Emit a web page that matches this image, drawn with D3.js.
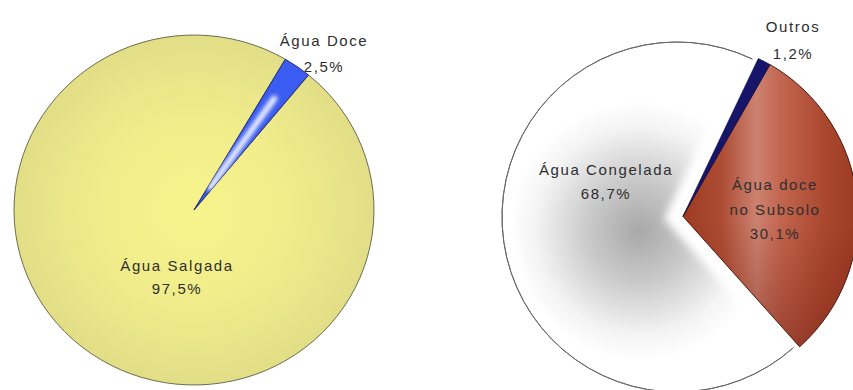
<!DOCTYPE html>
<html>
<head>
<meta charset="utf-8">
<script src="https://cdn.jsdelivr.net/npm/d3@7"></script>
<style>
  body { margin: 0; background: #fff; }
  svg { display: block; }
  text { font-family: "Liberation Sans", Arial, sans-serif; font-size: 15px; fill: #2e2e2e; letter-spacing: 1.6px; }
</style>
</head>
<body>
<svg id="chart" width="853" height="390"></svg>
<script>
// Distribution of the planet's water (left) and of its fresh water (right)
const totalCategories = ["Água Doce", "Água Salgada"];
const totalValues = [2.5, 97.5];
const totalLabelLines = [["Água Doce"], ["Água Salgada"]];

const freshCategories = ["Outros", "Água doce no Subsolo", "Água Congelada"];
const freshValues = [1.2, 30.1, 68.7];
const freshLabelLines = [["Outros"], ["Água doce", "no Subsolo"], ["Água Congelada"]];

const svg = d3.select("#chart");
const defs = svg.append("defs");
const deg = Math.PI / 180;
const pct = d3.formatLocale({ decimal: ",", thousands: ".", grouping: [3], currency: ["", ""] }).format(".1f");
const dir = a => [Math.sin(a), -Math.cos(a)];

// shared blur filters
defs.append("filter").attr("id", "blur2").attr("x", "-50%").attr("y", "-50%").attr("width", "200%").attr("height", "200%")
  .append("feGaussianBlur").attr("stdDeviation", 2.2);
defs.append("filter").attr("id", "blur4").attr("x", "-50%").attr("y", "-50%").attr("width", "200%").attr("height", "200%")
  .append("feGaussianBlur").attr("stdDeviation", 4);
defs.append("filter").attr("id", "blur10").attr("x", "-50%").attr("y", "-50%").attr("width", "200%").attr("height", "200%")
  .append("feGaussianBlur").attr("stdDeviation", 10);

function addStops(grad, stops) {
  stops.forEach(([o, c, op]) => grad.append("stop").attr("offset", o).attr("stop-color", c)
    .attr("stop-opacity", op === undefined ? 1 : op));
  return grad;
}

// ---------- Left pie: salt vs fresh water ----------
const leftC = [194, 210], leftR = 180;
const leftArcs = d3.pie().sort(null).startAngle(30.5 * deg).endAngle(390.5 * deg)(totalValues);
const arcL = d3.arc().innerRadius(0).outerRadius(leftR);

addStops(defs.append("radialGradient").attr("id", "gSalt")
  .attr("gradientUnits", "userSpaceOnUse").attr("cx", 0).attr("cy", 0).attr("r", leftR),
  [["0", "#f7f48c"], ["0.55", "#f0ec8b"], ["1", "#e2de87"]]);

const gL = svg.append("g").attr("transform", `translate(${leftC}) scale(1,0.972)`);
const fillsL = ["#3b5cf0", "url(#gSalt)"];
const strokesL = ["#1d2b7a", "#6a6a4c"];

// draw the large slice first, the small one on top
[1, 0].forEach(i => {
  gL.append("path").attr("d", arcL(leftArcs[i]))
    .attr("fill", fillsL[i]).attr("stroke", strokesL[i]).attr("stroke-width", 1);
});

// light streak along the middle of the fresh-water slice
defs.append("clipPath").attr("id", "clipBlue").append("path").attr("d", arcL(leftArcs[0]));
{
  const m = (leftArcs[0].startAngle + leftArcs[0].endAngle) / 2;
  const [dx, dy] = dir(m);
  gL.append("line").attr("clip-path", "url(#clipBlue)")
    .attr("x1", dx * 28).attr("y1", dy * 28).attr("x2", dx * 140).attr("y2", dy * 140)
    .attr("stroke", "#f2f5ff").attr("stroke-width", 6).attr("stroke-linecap", "round")
    .attr("filter", "url(#blur2)");
}

// labels of the left pie
const leftLabelPos = [[130, -164], [-17, 61]];
const lineGapL = [26, 23];
leftArcs.forEach((d, i) => {
  const t = svg.append("text").attr("text-anchor", "middle")
    .attr("transform", `translate(${leftC[0] + leftLabelPos[i][0]},${leftC[1] + leftLabelPos[i][1]})`);
  const lines = totalLabelLines[i].concat([pct(totalValues[i]) + "%"]);
  lines.forEach((s, k) => t.append("tspan").attr("x", 0).attr("y", k * lineGapL[i]).text(s));
});

// ---------- Right pie: where fresh water is ----------
const rightC = [677, 217], rightR = 175;
const rightArcs = d3.pie().sort(null).startAngle(25.5 * deg).endAngle(385.5 * deg)(freshValues);
const arcR = d3.arc().innerRadius(0).outerRadius(rightR);
const rimR = d3.arc().innerRadius(rightR).outerRadius(rightR);
const explodeGround = 6;

addStops(defs.append("radialGradient").attr("id", "gIce")
  .attr("gradientUnits", "userSpaceOnUse").attr("cx", -38).attr("cy", 14).attr("r", 130),
  [["0", "#a8a8a8"], ["0.4", "#cacaca"], ["0.8", "#f4f4f4"], ["1", "#ffffff"]]);
addStops(defs.append("linearGradient").attr("id", "gGround")
  .attr("x1", 0).attr("y1", 0).attr("x2", 1).attr("y2", 0),
  [["0", "#9e3a22"], ["0.22", "#ad4c34"], ["0.42", "#cc8270"], ["0.56", "#c2654f"], ["0.8", "#ac4830"], ["1", "#9c3a22"]]);
addStops(defs.append("linearGradient").attr("id", "gGroundShade")
  .attr("x1", 0).attr("y1", 0).attr("x2", 0).attr("y2", 1),
  [["0", "#7a2010", 0], ["0.55", "#7a2010", 0], ["1", "#6a1a0c", 0.45]]);

const gR = svg.append("g").attr("transform", `translate(${rightC})`);
const groundMid = (rightArcs[1].startAngle + rightArcs[1].endAngle) / 2;
const groundOffset = dir(groundMid).map(v => v * explodeGround);

// frozen water: grey core fading to white towards its edges
{
  const d = rightArcs[2];
  const g = gR.append("g");
  defs.append("clipPath").attr("id", "clipIce").append("path").attr("d", arcR(d));
  g.append("path").attr("d", arcR(d)).attr("fill", "url(#gIce)");
  g.append("path").attr("d", arcR(d)).attr("clip-path", "url(#clipIce)")
    .attr("fill", "none").attr("stroke", "#ffffff").attr("stroke-width", 22).attr("filter", "url(#blur4)");
  g.append("path").attr("d", rimR(d)).attr("fill", "none").attr("stroke", "#6a6a6a").attr("stroke-width", 1);
}

// groundwater slice (pulled out) with a white halo; the "others" sliver rides along with it
{
  const g = gR.append("g").attr("transform", `translate(${groundOffset})`);
  const d = rightArcs[1];
  g.append("path").attr("d", arcR(d)).attr("fill", "#fff")
    .attr("stroke", "#ffffff").attr("stroke-width", 9).attr("filter", "url(#blur2)");
  g.append("path").attr("d", arcR(d)).attr("fill", "url(#gGround)");
  g.append("path").attr("d", arcR(d)).attr("fill", "url(#gGroundShade)")
    .attr("stroke", "#4d1a10").attr("stroke-width", 1);

  const o = rightArcs[0];
  g.append("path").attr("d", arcR(o)).attr("fill", "#17156a")
    .attr("stroke", "#0c0c45").attr("stroke-width", 0.6);
}

// labels of the right pie
const rightLabelPos = [[116, -185], [98, -27], [-71, -42]];
const lineGapR = [27, 24.5, 23.5];
rightArcs.forEach((d, i) => {
  const t = svg.append("text").attr("text-anchor", "middle")
    .attr("transform", `translate(${rightC[0] + rightLabelPos[i][0]},${rightC[1] + rightLabelPos[i][1]})`);
  const lines = freshLabelLines[i].concat([pct(freshValues[i]) + "%"]);
  lines.forEach((s, k) => t.append("tspan").attr("x", 0).attr("y", k * lineGapR[i]).text(s));
});
</script>
</body>
</html>
